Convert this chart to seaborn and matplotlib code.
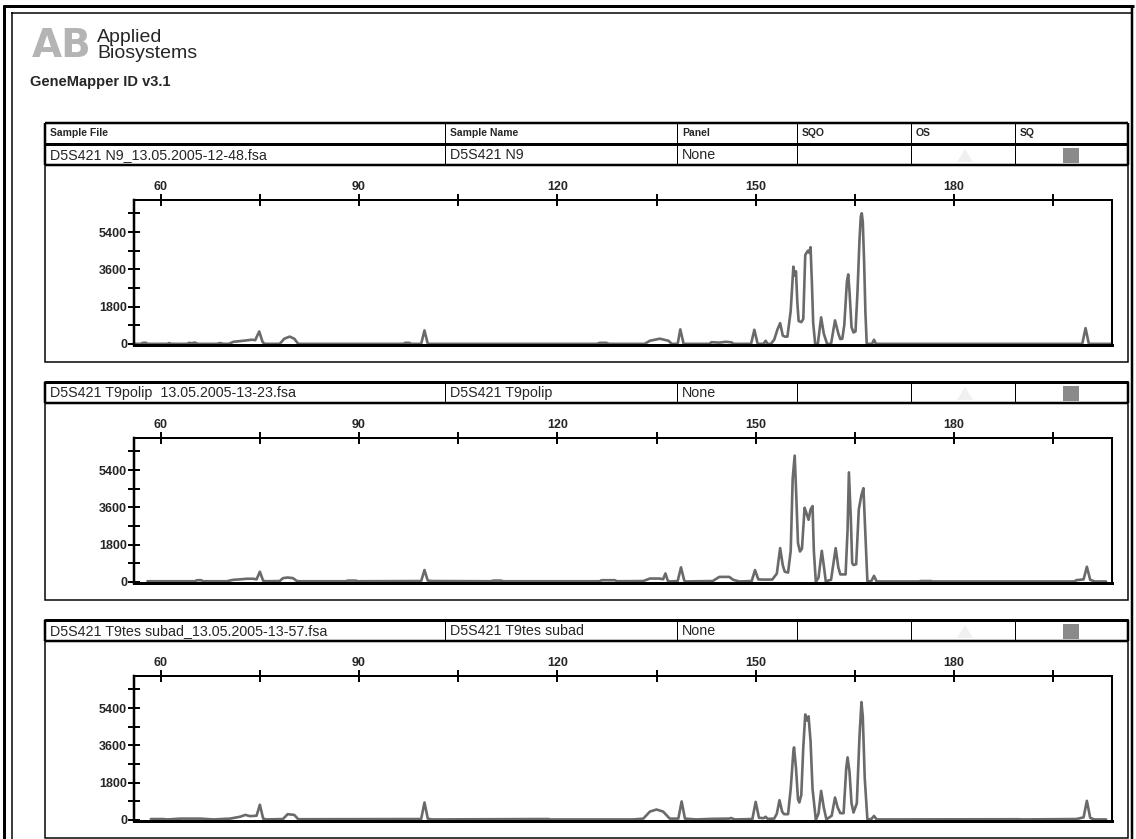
import matplotlib
matplotlib.use("Agg")
import matplotlib.pyplot as plt
import seaborn as sns
from matplotlib.patches import Rectangle, Polygon

# ---- data (size in bp, height in RFU) ----
col_headers = ["Sample File", "Sample Name", "Panel", "SQO", "OS", "SQ"]
sample_files = ["D5S421 N9_13.05.2005-12-48.fsa",
                "D5S421 T9polip  13.05.2005-13-23.fsa",
                "D5S421 T9tes subad_13.05.2005-13-57.fsa"]
sample_names = ["D5S421 N9", "D5S421 T9polip", "D5S421 T9tes subad"]
panel_names = ["None", "None", "None"]

x_major = [60, 90, 120, 150, 180]
x_minor = [75, 105, 135, 165, 195]
y_major = [0, 1800, 3600, 5400]
y_minor = [900, 2700, 4500, 6300]

n9_bp = [55.9, 57.0, 57.3, 57.8, 58.0, 61.0, 61.3, 61.6, 64.0, 64.3, 64.6, 65.2, 65.6,
         68.5, 69.0, 69.5, 70.3, 71.0, 72.5, 73.8, 74.3, 74.9, 75.4, 75.7,
         78.0, 78.7, 79.5, 80.2, 80.8, 96.7, 97.0, 97.6, 97.9, 99.4, 99.9, 100.4,
         126.0, 126.4, 127.4, 127.8, 133.2, 134.0, 135.5, 136.8, 137.3,
         138.2, 138.6, 139.1, 143.0, 143.3, 144.5, 145.5, 146.4, 146.6,
         149.3, 149.8, 150.3, 151.2, 151.5, 151.8,
         152.3, 152.8, 153.3, 153.7, 154.1, 154.4, 154.8, 155.3, 155.7, 155.9, 156.1,
         156.3, 156.5, 156.9, 157.2, 157.5, 157.7, 157.9, 158.1, 158.3, 158.5, 158.7, 159.0,
         159.4, 159.9, 160.3, 160.8, 161.4, 162.0, 162.5, 162.8, 163.1, 163.4, 163.8,
         164.0, 164.2, 164.5, 164.8, 165.1, 165.4, 165.7, 165.9, 166.05, 166.2, 166.4,
         166.6, 166.8, 167.6, 167.9, 168.2, 199.4, 199.9, 200.4, 204.0]
n9_rfu = [0, 0, 50, 50, 0, 0, 40, 0, 0, 50, 30, 60, 0,
          0, 40, 0, 0, 100, 150, 200, 180, 600, 100, 0,
          0, 250, 350, 250, 0, 0, 50, 50, 0, 0, 650, 0,
          0, 50, 50, 0, 0, 150, 250, 150, 0,
          0, 700, 0, 0, 80, 60, 100, 70, 0,
          0, 680, 0, 0, 150, 0,
          0, 200, 700, 1000, 400, 350, 350, 1600, 3730, 3300, 3500,
          2000, 1100, 1050, 1200, 4300, 4400, 4500, 4400, 4670, 3000, 1000, 0,
          0, 1280, 500, 0, 0, 1135, 500, 230, 250, 900, 3000,
          3357, 2500, 800, 550, 600, 2500, 5000, 6150, 6310, 5900, 4000,
          1500, 0, 0, 200, 0, 0, 760, 0, 0]

polip_bp = [58.0, 65.2, 65.5, 66.1, 66.4, 70.0, 71.0, 72.0, 73.0, 74.0, 74.5, 75.0, 75.5, 76.0,
            78.0, 78.5, 79.2, 80.0, 80.6, 81.0, 88.0, 88.3, 89.5, 89.8, 99.4, 99.9, 100.4, 101.0,
            110.0, 110.3, 111.5, 111.8, 126.4, 126.7, 128.7, 129.0,
            133.0, 134.0, 135.4, 136.0, 136.35, 136.7, 137.0, 138.2, 138.7, 139.2, 139.4,
            143.5, 144.5, 146.0, 146.6, 147.5, 149.4, 149.9, 150.4, 151.0, 152.5,
            153.2, 153.7, 154.1, 154.4, 154.9, 155.3, 155.6, 155.9, 156.1, 156.4, 156.7,
            157.0, 157.4, 157.7, 158.0, 158.3, 158.6, 158.8, 159.1, 159.5, 160.0, 160.3, 160.6,
            161.4, 162.1, 162.5, 162.8, 163.6, 163.9, 164.1, 164.4, 164.6, 164.8, 165.2,
            165.6, 166.0, 166.3, 166.5, 166.9, 167.5, 167.9, 168.3, 174.7, 175.0, 176.5, 176.8,
            198.2, 198.5, 199.6, 200.1, 200.6, 201.3, 203.0]
polip_rfu = [30, 30, 80, 80, 30, 30, 100, 120, 150, 150, 120, 490, 50, 30,
             40, 180, 210, 180, 40, 30, 30, 60, 60, 30, 40, 570, 60, 40,
             30, 60, 60, 30, 30, 80, 80, 30,
             40, 160, 160, 130, 407, 60, 20, 40, 700, 60, 20,
             40, 240, 240, 100, 20, 40, 570, 120, 110, 110,
             400, 1630, 800, 490, 450, 1500, 5000, 6100, 4500, 1870, 1465,
             1600, 3580, 3300, 3000, 3500, 3660, 1500, 0, 200, 1500, 800, 30,
             100, 1630, 700, 360, 360, 2500, 5290, 3000, 900, 814, 850,
             3500, 4200, 4525, 3000, 20, 40, 290, 20, 20, 40, 40, 20,
             20, 80, 120, 730, 100, 20, 20]

subad_bp = [58.5, 60.3, 61.0, 63.0, 66.0, 68.0, 70.5, 72.0, 72.8, 73.5, 74.5, 75.0, 75.5, 76.0,
            78.5, 79.2, 80.2, 80.8, 99.4, 99.9, 100.4, 101.0, 117.5, 118.6, 119.0,
            131.5, 133.0, 134.0, 135.0, 136.0, 137.0, 138.3, 138.8, 139.3, 141.0,
            143.5, 146.0, 146.3, 146.8, 149.5, 150.0, 150.5, 151.2, 151.5, 151.8, 152.8,
            153.2, 153.6, 154.0, 154.3, 154.9, 155.3, 155.7, 155.8, 156.1, 156.4, 156.6,
            156.9, 157.2, 157.5, 157.8, 158.0, 158.3, 158.6, 159.1, 159.5, 159.9, 160.3, 160.7,
            161.5, 162.0, 162.4, 162.8, 163.3, 163.7, 163.9, 164.2, 164.5, 164.8, 165.3,
            165.7, 166.0, 166.2, 166.5, 166.9, 167.5, 167.9, 168.3, 189.2, 189.9, 190.2,
            198.5, 199.6, 200.1, 200.6, 201.2, 203.0]
subad_rfu = [40, 40, 20, 60, 60, 20, 60, 150, 240, 180, 200, 730, 60, 20,
             40, 275, 240, 30, 40, 840, 60, 20, 40, 40, 20,
             20, 60, 400, 500, 400, 60, 60, 890, 60, 20,
             50, 60, 90, 20, 40, 870, 100, 80, 150, 50, 60,
             300, 950, 400, 275, 275, 1500, 3300, 3500, 2500, 1000, 840,
             1200, 3500, 5090, 4800, 5000, 3800, 1500, 0, 300, 1400, 600, 20,
             200, 1080, 600, 323, 323, 2500, 3020, 2300, 800, 355, 800,
             4000, 5690, 5000, 2000, 20, 40, 190, 20, 30, 30, 20,
             40, 120, 920, 100, 20, 20]

traces = [(n9_bp, n9_rfu), (polip_bp, polip_rfu), (subad_bp, subad_rfu)]

# ---- figure in pixel coordinates ----
sns.set_style("white")
plt.rcParams['font.family'] = ['Liberation Sans', 'DejaVu Sans']

W, H = 1136, 839
PX = 0.72  # one pixel in points at 100 dpi
fig = plt.figure(figsize=(W / 100, H / 100), dpi=100)
bg = fig.add_axes([0, 0, 1, 1])
bg.set_xlim(0, W)
bg.set_ylim(H, 0)
bg.axis('off')


def hline(y, x0, x1, w):
    bg.plot([x0, x1], [y, y], color='black', lw=w * PX, solid_capstyle='butt')


def vline(x, y0, y1, w):
    bg.plot([x, x], [y0, y1], color='black', lw=w * PX, solid_capstyle='butt')


# outer double frame
hline(6, 3, 1134, 3)
hline(13, 11, 1131, 1.5)
vline(4, 5, 839, 3)
vline(12, 12, 839, 1.5)
vline(1132, 5, 839, 2.5)

# logo and title
bg.text(32, 46, "AB", fontsize=28, fontweight='bold', color='#b4b4b4', va='center',
        family='DejaVu Sans')
bg.text(97, 37, "Applied", fontsize=14, color='#262626', va='center')
bg.text(97, 54, "Biosystems", fontsize=14, color='#262626', va='center')
bg.text(30, 82, "GeneMapper ID v3.1", fontsize=10.5, fontweight='bold', va='center')

L, R = 45, 1128
col_x = [L, 445, 677, 797, 911, 1015]

# header row of the sample table
hline(123, L, R, 2.5)
vline(L, 123, 144, 2.5)
vline(R, 123, 144, 2.5)
for cx in col_x[1:]:
    vline(cx, 123, 144, 1)
for cx, lab in zip(col_x, col_headers):
    bg.text(cx + 5, 133.5, lab, fontsize=7.5, fontweight='bold', va='center')

row_tops = [144, 382, 620]
for i, rt in enumerate(row_tops):
    # panel frame
    bg.add_patch(Rectangle((L, rt), R - L, 218, fill=False, lw=1.5 * PX, ec='black'))
    hline(rt, L, R, 3)
    hline(rt + 21, L, R, 2.5)
    vline(L, rt, rt + 21, 2.5)
    vline(R, rt, rt + 21, 2.5)
    for cx in col_x[1:]:
        vline(cx, rt, rt + 21, 1)
    bg.text(50, rt + 11, sample_files[i], fontsize=10.3, va='center')
    bg.text(450, rt + 11, sample_names[i], fontsize=10.3, va='center')
    bg.text(682, rt + 11, panel_names[i], fontsize=10.3, va='center')
    bg.add_patch(Polygon([[957, rt + 18], [965, rt + 5], [973, rt + 18]], color='#f0f0f0', lw=0))
    bg.add_patch(Rectangle((1063, rt + 4), 16, 15, color='#8a8a8a', lw=0))

    # electropherogram
    top, bot = rt + 56, rt + 201
    ax = fig.add_axes([134 / W, 1 - bot / H, (1112 - 134) / W, (bot - top) / H])
    bp, rfu = traces[i]
    sns.lineplot(x=bp, y=rfu, ax=ax, color='#6a6a6a', lw=1.9, sort=False,
                 estimator=None, zorder=2)
    ax.set_xlim(55.96, 203.9)
    ax.set_ylim(-55, 6950)
    ax.set_xlabel('')
    ax.set_ylabel('')
    ax.patch.set_alpha(0)
    ax.xaxis.tick_top()
    ax.set_xticks(x_major)
    ax.set_xticks(x_minor, minor=True)
    ax.set_yticks(y_major)
    ax.set_yticks(y_minor, minor=True)
    ax.tick_params(which='both', direction='inout', length=8, width=1.4, color='black',
                   labelsize=9, pad=1)
    ax.tick_params(axis='x', which='both', bottom=False, top=True)
    ax.tick_params(axis='y', which='both', left=True, right=False)
    for lab in ax.get_xticklabels() + ax.get_yticklabels():
        lab.set_fontweight('bold')
    for side, w in [('top', 2), ('right', 2), ('bottom', 3), ('left', 2.5)]:
        ax.spines[side].set_linewidth(w * PX)
        ax.spines[side].set_color('black')
        ax.spines[side].set_zorder(3)
        ax.spines[side].set_visible(True)

fig.savefig("out.png", dpi=100)
